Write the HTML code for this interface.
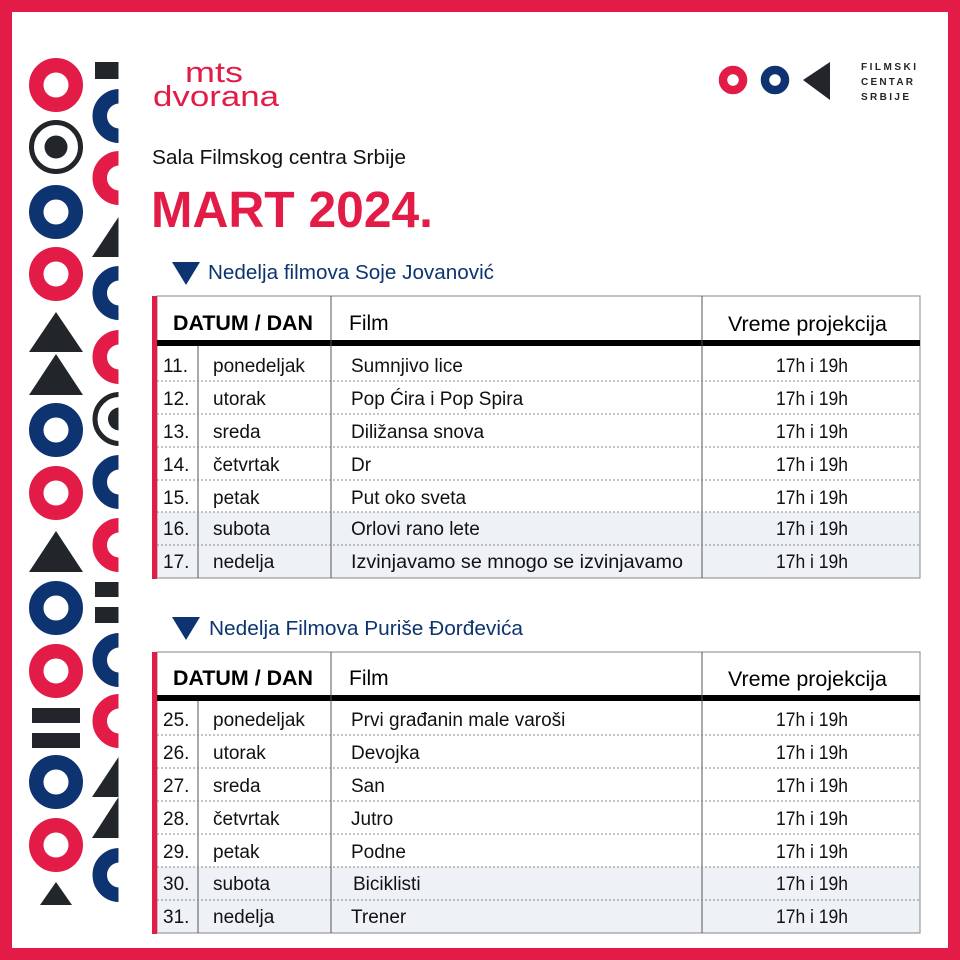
<!DOCTYPE html>
<html><head><meta charset="utf-8"><style>
html,body{margin:0;padding:0;background:#fff}
svg{display:block}
text{font-family:"Liberation Sans",sans-serif}
</style></head><body>
<svg width="960" height="960" viewBox="0 0 960 960" xmlns="http://www.w3.org/2000/svg">
<defs>
<clipPath id="c2"><rect x="85" y="0" width="33.5" height="960"/></clipPath>
</defs>
<rect x="0" y="0" width="960" height="960" fill="#e21c47"/>
<rect x="12" y="12" width="936" height="936" fill="#fff"/>

<g fill="none" stroke-width="14.5">
<circle cx="56" cy="85" r="19.75" stroke="#e21c47"/>
<circle cx="56" cy="212" r="19.75" stroke="#0d3470"/>
<circle cx="56" cy="274" r="19.75" stroke="#e21c47"/>
<circle cx="56" cy="430" r="19.75" stroke="#0d3470"/>
<circle cx="56" cy="493" r="19.75" stroke="#e21c47"/>
<circle cx="56" cy="608" r="19.75" stroke="#0d3470"/>
<circle cx="56" cy="671" r="19.75" stroke="#e21c47"/>
<circle cx="56" cy="782" r="19.75" stroke="#0d3470"/>
<circle cx="56" cy="845" r="19.75" stroke="#e21c47"/>
</g>
<circle cx="56" cy="147" r="24.5" fill="none" stroke="#22252a" stroke-width="5"/>
<circle cx="56" cy="147" r="11.5" fill="#22252a"/>
<g fill="#22252a">
<polygon points="56,312 83,352 29,352"/>
<polygon points="56,354 83,395 29,395"/>
<polygon points="56,531 83,572 29,572"/>
<polygon points="56,882 72,905 40,905"/>
<rect x="32" y="708" width="48" height="15"/>
<rect x="32" y="733" width="48" height="15"/>
</g>

<g clip-path="url(#c2)">
<g fill="none" stroke-width="14.5">
<circle cx="119.5" cy="116" r="19.75" stroke="#0d3470"/>
<circle cx="119.5" cy="178" r="19.75" stroke="#e21c47"/>
<circle cx="119.5" cy="293" r="19.75" stroke="#0d3470"/>
<circle cx="119.5" cy="357" r="19.75" stroke="#e21c47"/>
<circle cx="119.5" cy="482" r="19.75" stroke="#0d3470"/>
<circle cx="119.5" cy="545" r="19.75" stroke="#e21c47"/>
<circle cx="119.5" cy="660" r="19.75" stroke="#0d3470"/>
<circle cx="119.5" cy="721" r="19.75" stroke="#e21c47"/>
<circle cx="119.5" cy="875" r="19.75" stroke="#0d3470"/>
</g>
<circle cx="119.5" cy="419" r="24.5" fill="none" stroke="#22252a" stroke-width="5"/>
<circle cx="119.5" cy="419" r="11.5" fill="#22252a"/>
</g>
<g fill="#22252a">
<rect x="95" y="62" width="23.5" height="17"/>
<rect x="95" y="582" width="23.5" height="15"/>
<rect x="95" y="607" width="23.5" height="16"/>
<polygon points="118.5,217 118.5,257 92,257"/>
<polygon points="118.5,757 118.5,797 92,797"/>
<polygon points="118.5,797 118.5,838 92,838"/>
</g>

<text x="185" y="82" font-size="29" fill="#e21c47" textLength="58" lengthAdjust="spacingAndGlyphs">mts</text>
<text x="153" y="106" font-size="29" fill="#e21c47" textLength="126" lengthAdjust="spacingAndGlyphs">dvorana</text>

<circle cx="733" cy="80" r="10" fill="none" stroke="#e21c47" stroke-width="8.5"/>
<circle cx="775" cy="80" r="10" fill="none" stroke="#0d3470" stroke-width="8.5"/>
<polygon points="803,80 830,62 830,100" fill="#22252a"/>
<g font-size="10" font-weight="bold" fill="#22252a">
<text x="861" y="70" textLength="55">FILMSKI</text>
<text x="861" y="85" textLength="52">CENTAR</text>
<text x="861" y="100" textLength="48">SRBIJE</text>
</g>

<text x="152" y="164" font-size="20" fill="#111" textLength="254" lengthAdjust="spacingAndGlyphs">Sala Filmskog centra Srbije</text>
<text x="151" y="227" font-size="51" font-weight="bold" fill="#e21c47" textLength="282" lengthAdjust="spacingAndGlyphs">MART 2024.</text>

<polygon points="172,262 200,262 186,285" fill="#0d3470"/>
<text x="208" y="279" font-size="20" fill="#0d3470" textLength="286" lengthAdjust="spacingAndGlyphs">Nedelja filmova Soje Jovanović</text>

<polygon points="172,617 200,617 186,640" fill="#0d3470"/>
<text x="209" y="635" font-size="20" fill="#0d3470" textLength="314" lengthAdjust="spacingAndGlyphs">Nedelja Filmova Puriše Đorđevića</text>

<g>
<rect x="157" y="512" width="763" height="66" fill="#eef2f6"/>
<rect x="157" y="296" width="763" height="282" fill="none" stroke="#999" stroke-width="1.2"/>
<rect x="152" y="296" width="5" height="283" fill="#e21c47"/>
<rect x="157" y="340" width="763" height="6" fill="#000"/>
<line x1="331" y1="296" x2="331" y2="578" stroke="#555" stroke-width="1"/>
<line x1="702" y1="296" x2="702" y2="578" stroke="#555" stroke-width="1"/>
<line x1="198" y1="346" x2="198" y2="578" stroke="#555" stroke-width="1"/>
<g stroke="#888" stroke-width="1" stroke-dasharray="2,2">
<line x1="157" y1="381" x2="920" y2="381"/><line x1="157" y1="414" x2="920" y2="414"/>
<line x1="157" y1="447" x2="920" y2="447"/><line x1="157" y1="480" x2="920" y2="480"/>
<line x1="157" y1="512" x2="920" y2="512"/><line x1="157" y1="545" x2="920" y2="545"/>
</g>
<text x="173" y="330" font-size="21" font-weight="bold" fill="#000" textLength="140" lengthAdjust="spacingAndGlyphs">DATUM / DAN</text>
<text x="349" y="330" font-size="21" fill="#000">Film</text>
<text x="728" y="331" font-size="21" fill="#000" textLength="159" lengthAdjust="spacingAndGlyphs">Vreme projekcija</text>
<g font-size="19" fill="#111">
<text x="163" y="372">11.</text><text x="213" y="372">ponedeljak</text><text x="351" y="372">Sumnjivo lice</text>
<text x="163" y="405">12.</text><text x="213" y="405">utorak</text><text x="351" y="405">Pop Ćira i Pop Spira</text>
<text x="163" y="438">13.</text><text x="213" y="438">sreda</text><text x="351" y="438">Diližansa snova</text>
<text x="163" y="471">14.</text><text x="213" y="471">četvrtak</text><text x="351" y="471">Dr</text>
<text x="163" y="504">15.</text><text x="213" y="504">petak</text><text x="351" y="504">Put oko sveta</text>
<text x="163" y="535">16.</text><text x="213" y="535">subota</text><text x="351" y="535">Orlovi rano lete</text>
<text x="163" y="568">17.</text><text x="213" y="568">nedelja</text><text x="351" y="568" textLength="332" lengthAdjust="spacingAndGlyphs">Izvinjavamo se mnogo se izvinjavamo</text>
<g>
<text x="776" y="372" textLength="72" lengthAdjust="spacingAndGlyphs">17h i 19h</text><text x="776" y="405" textLength="72" lengthAdjust="spacingAndGlyphs">17h i 19h</text><text x="776" y="438" textLength="72" lengthAdjust="spacingAndGlyphs">17h i 19h</text>
<text x="776" y="471" textLength="72" lengthAdjust="spacingAndGlyphs">17h i 19h</text><text x="776" y="504" textLength="72" lengthAdjust="spacingAndGlyphs">17h i 19h</text><text x="776" y="535" textLength="72" lengthAdjust="spacingAndGlyphs">17h i 19h</text>
<text x="776" y="568" textLength="72" lengthAdjust="spacingAndGlyphs">17h i 19h</text>
</g>
</g>
</g>

<g>
<rect x="157" y="867" width="763" height="66" fill="#eef2f6"/>
<rect x="157" y="652" width="763" height="281" fill="none" stroke="#999" stroke-width="1.2"/>
<rect x="152" y="652" width="5" height="282" fill="#e21c47"/>
<rect x="157" y="695" width="763" height="6" fill="#000"/>
<line x1="331" y1="652" x2="331" y2="933" stroke="#555" stroke-width="1"/>
<line x1="702" y1="652" x2="702" y2="933" stroke="#555" stroke-width="1"/>
<line x1="198" y1="701" x2="198" y2="933" stroke="#555" stroke-width="1"/>
<g stroke="#888" stroke-width="1" stroke-dasharray="2,2">
<line x1="157" y1="735" x2="920" y2="735"/><line x1="157" y1="768" x2="920" y2="768"/>
<line x1="157" y1="801" x2="920" y2="801"/><line x1="157" y1="834" x2="920" y2="834"/>
<line x1="157" y1="867" x2="920" y2="867"/><line x1="157" y1="900" x2="920" y2="900"/>
</g>
<text x="173" y="685" font-size="21" font-weight="bold" fill="#000" textLength="140" lengthAdjust="spacingAndGlyphs">DATUM / DAN</text>
<text x="349" y="685" font-size="21" fill="#000">Film</text>
<text x="728" y="686" font-size="21" fill="#000" textLength="159" lengthAdjust="spacingAndGlyphs">Vreme projekcija</text>
<g font-size="19" fill="#111">
<text x="163" y="726">25.</text><text x="213" y="726">ponedeljak</text><text x="351" y="726">Prvi građanin male varoši</text>
<text x="163" y="759">26.</text><text x="213" y="759">utorak</text><text x="351" y="759">Devojka</text>
<text x="163" y="792">27.</text><text x="213" y="792">sreda</text><text x="351" y="792">San</text>
<text x="163" y="825">28.</text><text x="213" y="825">četvrtak</text><text x="351" y="825">Jutro</text>
<text x="163" y="858">29.</text><text x="213" y="858">petak</text><text x="351" y="858">Podne</text>
<text x="163" y="890">30.</text><text x="213" y="890">subota</text><text x="353" y="890">Biciklisti</text>
<text x="163" y="923">31.</text><text x="213" y="923">nedelja</text><text x="351" y="923">Trener</text>
<g>
<text x="776" y="726" textLength="72" lengthAdjust="spacingAndGlyphs">17h i 19h</text><text x="776" y="759" textLength="72" lengthAdjust="spacingAndGlyphs">17h i 19h</text><text x="776" y="792" textLength="72" lengthAdjust="spacingAndGlyphs">17h i 19h</text>
<text x="776" y="825" textLength="72" lengthAdjust="spacingAndGlyphs">17h i 19h</text><text x="776" y="858" textLength="72" lengthAdjust="spacingAndGlyphs">17h i 19h</text><text x="776" y="890" textLength="72" lengthAdjust="spacingAndGlyphs">17h i 19h</text>
<text x="776" y="923" textLength="72" lengthAdjust="spacingAndGlyphs">17h i 19h</text>
</g>
</g>
</g>
</svg>
</body></html>
